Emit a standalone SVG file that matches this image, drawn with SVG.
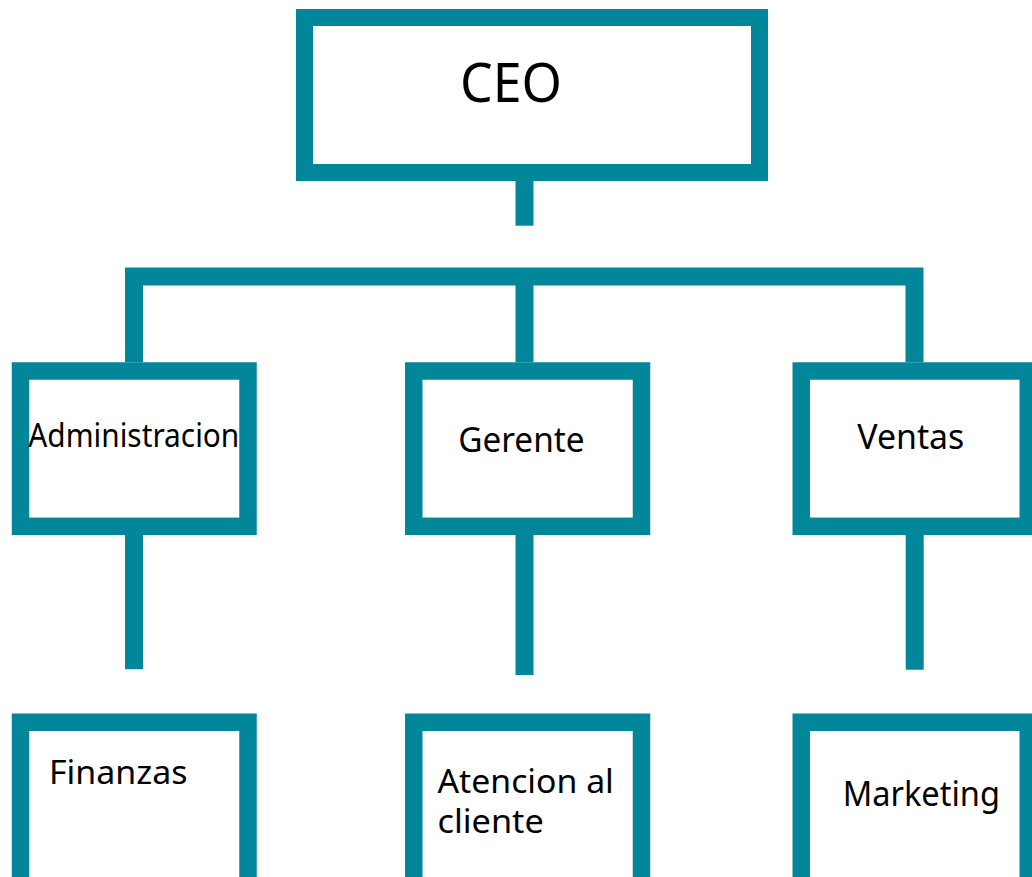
<svg xmlns="http://www.w3.org/2000/svg" width="1032" height="877" viewBox="0 0 1032 877">
<style>
.box{fill:#ffffff;stroke:#02879a;stroke-width:17.5}
.ln{fill:none;stroke:#02879a;stroke-width:18;stroke-linecap:butt;stroke-linejoin:miter}
.t{font-family:"Noto Sans","Liberation Sans",sans-serif;fill:#000000}
</style>
<rect width="1032" height="877" fill="#ffffff"/>
<g id="connectors">
<path class="ln" d="M524.5 181 V225.7"/>
<path class="ln" d="M134 362.3 V276.5 H914.5 V362.3"/>
<path class="ln" d="M524.5 276.5 V362.3"/>
<path class="ln" d="M134 535 V669.3"/>
<path class="ln" d="M524.5 535 V675"/>
<path class="ln" d="M914.7 535 V669.7"/>
</g>
<g id="ceo">
<rect class="box" x="304.5" y="17.5" width="455" height="155" style="stroke-width:17"/>
<text class="t" x="460" y="101.7" font-size="55" textLength="102" lengthAdjust="spacingAndGlyphs">CEO</text>
</g>
<g id="administracion">
<rect class="box" x="20.5" y="371" width="227.5" height="155.3"/>
<text class="t" x="28.3" y="447.3" font-size="32" textLength="211" lengthAdjust="spacingAndGlyphs">Administracion</text>
</g>
<g id="gerente">
<rect class="box" x="413.75" y="371" width="227.75" height="155.3"/>
<text class="t" x="458.2" y="452.3" font-size="34" textLength="126.4" lengthAdjust="spacingAndGlyphs">Gerente</text>
</g>
<g id="ventas">
<rect class="box" x="801.25" y="371" width="227" height="155.3"/>
<text class="t" x="857.3" y="449.3" font-size="35" textLength="107" lengthAdjust="spacingAndGlyphs">Ventas</text>
</g>
<g id="finanzas">
<rect class="box" x="20.5" y="722.25" width="227.5" height="200"/>
<text class="t" x="49" y="784" font-size="32" textLength="138.5" lengthAdjust="spacingAndGlyphs">Finanzas</text>
</g>
<g id="atencion">
<rect class="box" x="413.75" y="722.25" width="227.75" height="200"/>
<text class="t" font-size="32"><tspan x="437.5" y="793.3" textLength="176.3" lengthAdjust="spacingAndGlyphs">Atencion al</tspan><tspan x="437.5" y="832.7" textLength="106.3" lengthAdjust="spacingAndGlyphs">cliente</tspan></text>
</g>
<g id="marketing">
<rect class="box" x="801.25" y="722.25" width="227" height="200"/>
<text class="t" x="842.7" y="805.7" font-size="34" textLength="157.3" lengthAdjust="spacingAndGlyphs">Marketing</text>
</g>
</svg>
